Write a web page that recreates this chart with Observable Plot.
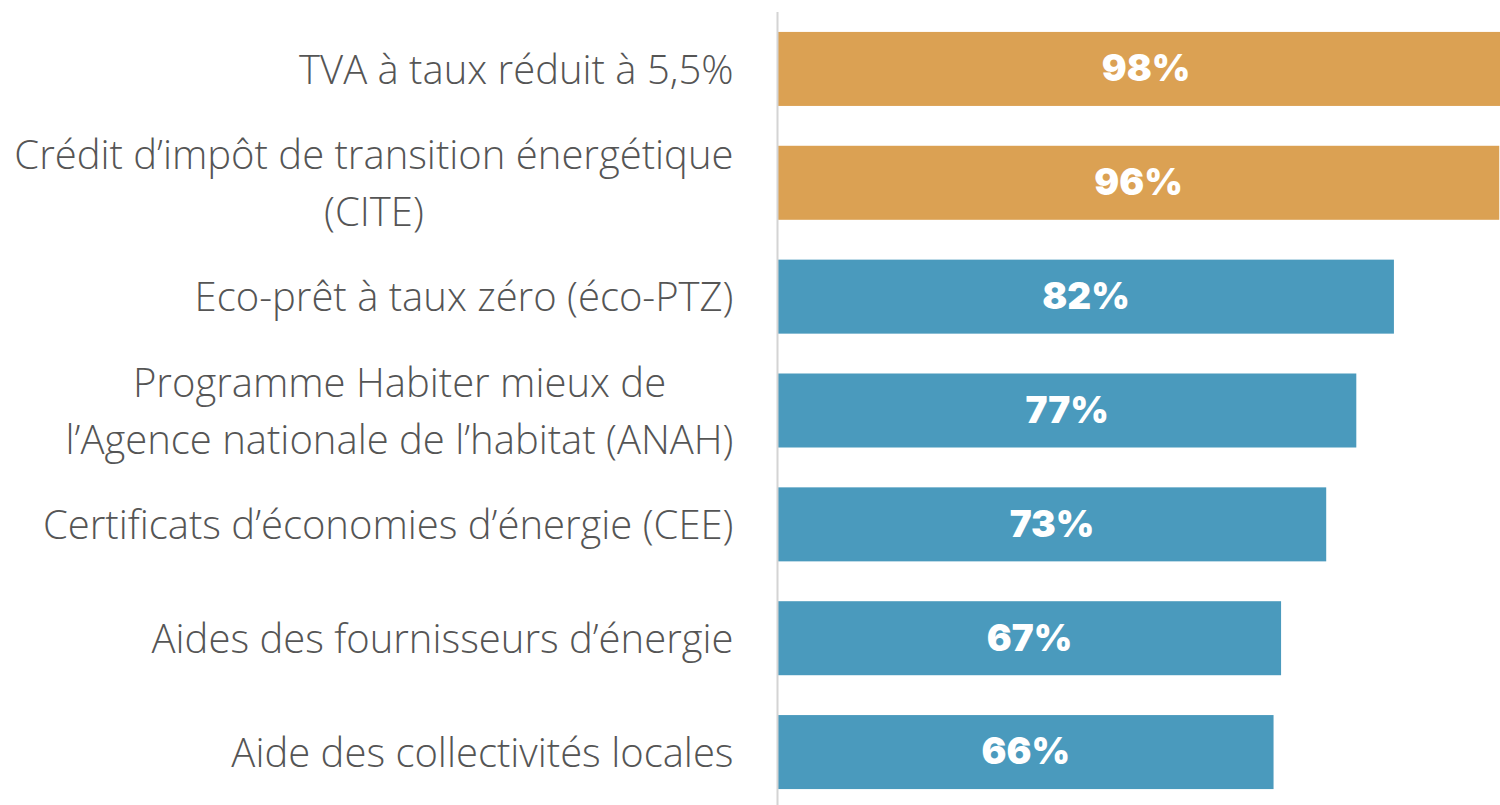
<!DOCTYPE html>
<html>
<head>
<meta charset="utf-8">
<script src="https://cdn.jsdelivr.net/npm/d3@7"></script>
<script src="https://cdn.jsdelivr.net/npm/@observablehq/plot@0.6"></script>
<style>
  html, body { margin: 0; padding: 0; background: #fff; }
  #chart { width: 1500px; height: 805px; overflow: hidden; }
</style>
</head>
<body>
<div id="chart"></div>
<script>
const categories = [
  "TVA à taux réduit à 5,5%",
  "Crédit d’impôt de transition énergétique\n(CITE)",
  "Eco-prêt à taux zéro (éco-PTZ)",
  "Programme Habiter mieux de\nl’Agence nationale de l’habitat (ANAH)",
  "Certificats d’économies d’énergie (CEE)",
  "Aides des fournisseurs d’énergie",
  "Aide des collectivités locales"
];
const values = [98, 96, 82, 77, 73, 67, 66];
const groups = ["top", "top", "other", "other", "other", "other", "other"];

const data = categories.map((c, i) => ({category: c, value: values[i], group: groups[i]}));

const chart = Plot.plot({
  width: 1500,
  height: 805,
  marginLeft: 777,
  marginRight: 0,
  marginTop: 12,
  marginBottom: 0,
  style: {background: "#fff"},
  x: {domain: [0, 96.1], axis: null},
  y: {domain: categories, range: [12, 809], padding: 0.35, paddingOuter: 0.175, round: false, axis: null},
  color: {domain: ["top", "other"], range: ["#DBA153", "#4A9ABD"]},
  marks: [
    Plot.barX(data, {x: "value", y: "category", fill: "group", clip: "frame"}),
    Plot.ruleX([0], {stroke: "#d4d4d4", strokeWidth: 2}),
    Plot.text(data, {
      x: d => d.value / 2, y: "category", text: d => `${d.value}%`,
      fill: "white", fontSize: 37, fontWeight: 900, fontFamily: "Inter",
      textAnchor: "middle"
    }),
    Plot.text(data, {
      y: "category", text: "category", frameAnchor: "left", dx: -44, dy: -4,
      textAnchor: "end", lineAnchor: "middle", lineHeight: 1.43,
      fill: "#555", fontSize: 40, fontWeight: 300, fontFamily: "Open Sans",
      className: "cat-labels"
    })
  ]
});

document.getElementById("chart").appendChild(chart);

// center multi-line labels within their block (block right-aligned)
d3.select(chart).selectAll("g.cat-labels text").each(function () {
  const tspans = this.querySelectorAll("tspan");
  if (tspans.length > 1) {
    let maxW = 0;
    tspans.forEach(t => { maxW = Math.max(maxW, t.getComputedTextLength()); });
    this.setAttribute("text-anchor", "middle");
    tspans.forEach(t => t.setAttribute("x", -maxW / 2));
  }
});
</script>
</body>
</html>
